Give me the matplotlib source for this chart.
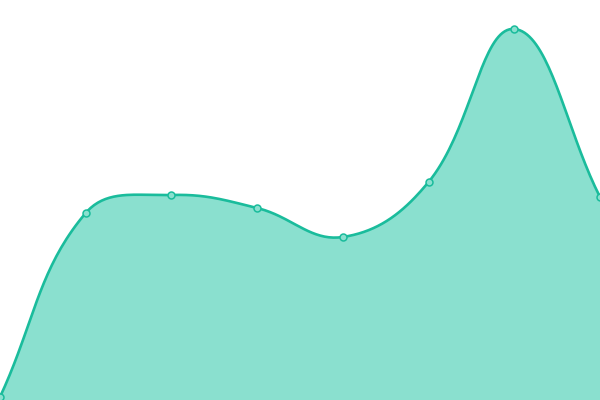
import numpy as np
import matplotlib
matplotlib.use("Agg")
import matplotlib.pyplot as plt

# values (pixel rows -> value = 400 - row)
x_vals = [0, 1, 2, 3, 4, 5, 6, 7]
y_vals = [3, 187, 205, 192, 163, 218, 371, 203]

line_color = "#1abc9c"
fill_color = "#8ae0cf"
tension = 0.4
x_px = 600 / 7  # pixels per x step, used so the spline is built in screen space


def spline_curve(xs, ys, n=40):
    # cardinal-like spline, control points scaled by neighbour distances
    pts = np.column_stack([np.asarray(xs, float) * x_px, np.asarray(ys, float)])
    m = len(pts)
    cps = []
    for i in range(m):
        prev = pts[max(i - 1, 0)]
        cur = pts[i]
        nxt = pts[min(i + 1, m - 1)]
        d01 = np.hypot(*(cur - prev))
        d12 = np.hypot(*(nxt - cur))
        tot = d01 + d12
        s01 = d01 / tot if tot else 0
        s12 = d12 / tot if tot else 0
        before = cur - tension * s01 * (nxt - prev)
        after = cur + tension * s12 * (nxt - prev)
        before[1] = np.clip(before[1], 0, 400)
        after[1] = np.clip(after[1], 0, 400)
        before[0] = np.clip(before[0], 0, 600)
        after[0] = np.clip(after[0], 0, 600)
        cps.append((before, after))
    out = []
    u = np.linspace(0, 1, n)[:, None]
    for i in range(m - 1):
        p0 = pts[i]
        p1 = cps[i][1]
        p2 = cps[i + 1][0]
        p3 = pts[i + 1]
        seg = (1 - u) ** 3 * p0 + 3 * (1 - u) ** 2 * u * p1 + 3 * (1 - u) * u ** 2 * p2 + u ** 3 * p3
        out.append(seg)
    out = np.vstack(out)
    return out[:, 0] / x_px, out[:, 1]


cx, cy = spline_curve(x_vals, y_vals)

fig = plt.figure(figsize=(6, 4), dpi=100)
ax = fig.add_axes([0, 0, 1, 1])
ax.fill_between(cx, 0, cy, color=fill_color, lw=0)
ax.plot(cx, cy, color=line_color, lw=1.9, solid_capstyle="round")
ax.plot(x_vals, y_vals, "o", ms=5, mfc=fill_color, mec=line_color, mew=1.1)
ax.set_xlim(0, 7)
ax.set_ylim(0, 400)
ax.axis("off")

plt.savefig("out.png", dpi=100)
